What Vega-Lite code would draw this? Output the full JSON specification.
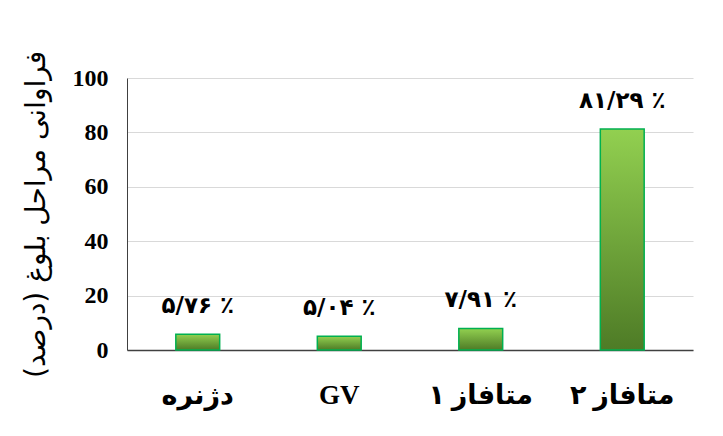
{
  "$schema": "https://vega.github.io/schema/vega-lite/v6.json",
  "autosize": "none",
  "width": 566,
  "height": 272,
  "padding": {"left": 127, "top": 78, "right": 30, "bottom": 86},
  "background": "white",
  "config": {
    "view": {"stroke": null},
    "font": "Liberation Serif, DejaVu Sans"
  },
  "data": {
    "values": [
      {"stage": "دژنره", "value": 5.76, "label": "۵/۷۶ ٪"},
      {"stage": "GV", "value": 5.04, "label": "۵/۰۴ ٪"},
      {"stage": "متافاز ۱", "value": 7.91, "label": "۷/۹۱ ٪"},
      {"stage": "متافاز ۲", "value": 81.29, "label": "۸۱/۲۹ ٪"}
    ]
  },
  "encoding": {
    "x": {
      "field": "stage", "type": "nominal", "sort": null,
      "scale": {"paddingInner": 0.69, "paddingOuter": 0.345},
      "axis": {
        "title": null, "labelAngle": 0, "labelFontWeight": "bold", "labelFontSize": 27,
        "labelColor": "black", "labelPadding": 32, "ticks": false,
        "domainColor": "#404040", "domainWidth": 1.5,
        "labelFont": "Liberation Serif, DejaVu Sans"
      }
    },
    "y": {
      "field": "value", "type": "quantitative",
      "scale": {"domain": [0, 100]},
      "axis": {
        "title": "فراوانی مراحل بلوغ (درصد)", "titleFontSize": 28, "titleFontWeight": "normal",
        "titleColor": "black", "titlePadding": 22, "titleFont": "DejaVu Sans",
        "values": [0, 20, 40, 60, 80, 100], "labelFontWeight": "bold", "labelFontSize": 24,
        "labelColor": "black", "labelPadding": 19, "ticks": false,
        "labelFont": "Liberation Serif",
        "domainColor": "#404040", "gridColor": "#d9d9d9", "gridWidth": 1
      }
    }
  },
  "layer": [
    {
      "mark": {
        "type": "bar",
        "stroke": "#00B050", "strokeWidth": 1.5,
        "fill": {
          "gradient": "linear", "x1": 0, "y1": 0, "x2": 0, "y2": 1,
          "stops": [{"offset": 0, "color": "#92D050"}, {"offset": 1, "color": "#4E7B26"}]
        }
      }
    },
    {
      "mark": {"type": "text", "baseline": "bottom", "dy": -16, "fontSize": 23, "fontWeight": "bold", "font": "DejaVu Sans", "color": "black"},
      "encoding": {"text": {"field": "label"}}
    }
  ]
}
